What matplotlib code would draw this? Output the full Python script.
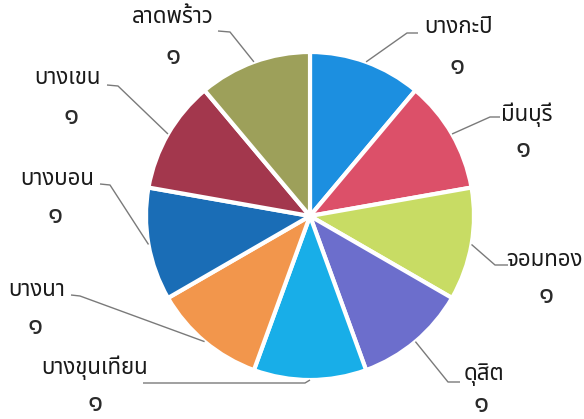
import matplotlib
matplotlib.use("Agg")
import matplotlib.pyplot as plt
import numpy as np
from matplotlib import font_manager as fm
from matplotlib.ft2font import FT2Font

# ---- data ----
districts = ["บางกะปิ", "มีนบุรี", "จอมทอง", "ดุสิต", "บางขุนเทียน",
             "บางนา", "บางบอน", "บางเขน", "ลาดพร้าว"]
counts = [1, 1, 1, 1, 1, 1, 1, 1, 1]
count_labels = ["๑", "๑", "๑", "๑", "๑", "๑", "๑", "๑", "๑"]
colors = ["#1c8fe0", "#dc5069", "#c8dc64", "#6c6ecc", "#18aee8",
          "#f2964c", "#1a6db6", "#a3374d", "#9da05a"]

# ---- find a Thai-capable font ----
def find_thai_font():
    try:
        for p in fm.findSystemFonts():
            try:
                fm.fontManager.addfont(p)
            except Exception:
                pass
    except Exception:
        pass
    pref = ["Noto Sans Thai", "Noto Sans Thai Looped", "Sarabun", "Loma", "Garuda",
            "Tlwg Typo", "Waree", "Umpush", "Kinnari", "Norasi", "Laksaman",
            "Sawasdee", "Purisa", "Noto Serif Thai"]
    found = {}
    for f in fm.fontManager.ttflist:
        try:
            ft = FT2Font(f.fname)
            if ft.get_char_index(0x0E1A) and ft.get_char_index(0x0E51):
                found.setdefault(f.name, f.fname)
        except Exception:
            pass
    for p in pref:
        if p in found:
            return p
    if found:
        return sorted(found)[0]
    return "DejaVu Sans"

thai_font = find_thai_font()
plt.rcParams['font.family'] = [thai_font, "DejaVu Sans"]

W, H = 584, 419
fig = plt.figure(figsize=(W / 100, H / 100), dpi=100)
ax = fig.add_axes([0, 0, 1, 1])

cx, cy, R = 310, H - 216, 164
wedges, _ = ax.pie(counts, colors=colors, startangle=90, counterclock=False,
                   center=(cx, cy), radius=R,
                   wedgeprops=dict(edgecolor="white", linewidth=3))
ax.set_xlim(0, W)
ax.set_ylim(0, H)
ax.set_aspect("equal")
ax.axis("off")

# layout (pixel coords, y down): text centre, number centre, elbow, horizontal end
layout = [
    ((458, 28), (457, 67), (407, 33), (418, 33)),
    ((527, 115), (523, 150), (490, 117), (500, 117)),
    ((544, 260), (546, 296), (495, 265), (508, 265)),
    ((484, 375), (481, 405), (448, 382), (460, 382)),
    ((95, 368), (95, 404), (305, 383), (143, 383)),
    ((37, 290), (35, 327), (80, 296), (71, 295)),
    ((57, 180), (55, 216), (110, 185), (100, 184)),
    ((68, 78), (71, 117), (118, 86), (107, 85)),
    ((173, 18), (173, 57), (230, 32), (218, 31)),
]

for w, name, num, (tp, npos, ep, hp) in zip(wedges, districts, count_labels, layout):
    mid = np.deg2rad((w.theta1 + w.theta2) / 2)
    sx, sy = cx + R * np.cos(mid), cy + R * np.sin(mid)
    ax.plot([sx, ep[0], hp[0]], [sy, H - ep[1], H - hp[1]],
            color="#7a7a7a", lw=1.0, solid_capstyle="butt", zorder=1)
    ax.text(tp[0], H - tp[1], name, ha="center", va="center",
            fontsize=16, color="#1a1a1a")
    ax.text(npos[0], H - npos[1], num, ha="center", va="center",
            fontsize=20, fontweight="light", color="#2a2a2a")

fig.savefig("out.png", dpi=100)
